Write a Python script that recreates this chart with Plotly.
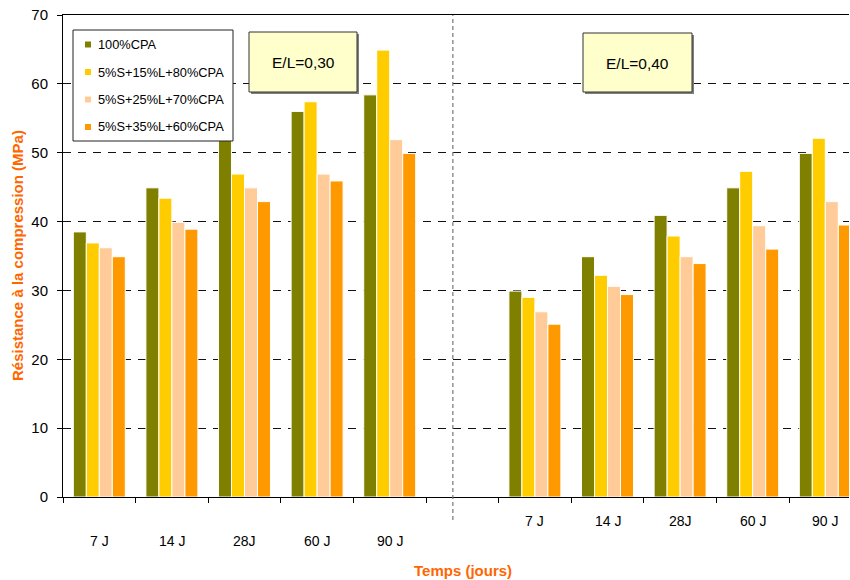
import plotly.graph_objects as go

# Compressive strength (MPa) by curing age, for two water/binder ratios
ages = ["7 J", "14 J", "28J", "60 J", "90 J"]
series_names = ["100%CPA", "5%S+15%L+80%CPA", "5%S+25%L+70%CPA", "5%S+35%L+60%CPA"]
colors = ["#808000", "#FFCC00", "#FFCC99", "#FF9900"]

el030_cpa100 = [38.5, 44.9, 53.0, 56.0, 58.4]
el030_s15l = [36.9, 43.4, 46.9, 57.4, 64.9]
el030_s25l = [36.2, 39.9, 44.9, 46.9, 51.9]
el030_s35l = [34.9, 38.9, 42.9, 45.9, 49.9]

el040_cpa100 = [29.9, 34.9, 40.9, 44.9, 49.9]
el040_s15l = [29.0, 32.2, 37.9, 47.3, 52.1]
el040_s25l = [26.9, 30.6, 34.9, 39.4, 42.9]
el040_s35l = [25.1, 29.4, 33.9, 36.0, 39.5]

ratio_labels = ["E/L=0,30", "E/L=0,40"]

left_pos = [0, 1, 2, 3, 4]
right_pos = [6, 7, 8, 9, 10]

# plot-area geometry in pixels (850x580 page)
L, R, T, B = 63, 849, 15, 497
W, H = R - L, B - T
cat_w = 72.6


def px(x):
    return (x - L) / W


def py(y):
    return (B - y) / H


series_030 = [el030_cpa100, el030_s15l, el030_s25l, el030_s35l]
series_040 = [el040_cpa100, el040_s15l, el040_s25l, el040_s35l]

fig = go.Figure()
for name, col, v1, v2 in zip(series_names, colors, series_030, series_040):
    fig.add_trace(go.Bar(
        x=left_pos + right_pos,
        y=v1 + v2,
        name=name,
        marker=dict(color=col, line=dict(color="white", width=1)),
        showlegend=False,
    ))

font_family = "Arial, Liberation Sans, sans-serif"
shapes = []
annotations = []


def label(x, y, text, size, xref="paper", xanchor="center", **kw):
    annotations.append(dict(x=x, y=y, xref=xref, yref="paper", text=text,
                            xanchor=xanchor, yanchor="middle", showarrow=False,
                            font=dict(size=size, color=kw.pop("color", "black")), **kw))


# separator between the two ratios
shapes.append(dict(type="line", xref="x", yref="paper", x0=4.87, x1=4.87,
                   y0=py(520), y1=1, line=dict(color="#777777", width=1.2, dash="4px,3px"),
                   layer="above"))

# category labels under each group (staggered heights)
for pos, lab in zip(left_pos, ages):
    label(pos, py(541), lab, 14, xref="x")
for pos, lab in zip(right_pos, ages):
    label(pos, py(521), lab, 14, xref="x")

# legend box
shapes.append(dict(type="rect", xref="paper", yref="paper",
                   x0=px(73), x1=px(233), y0=py(141), y1=py(30),
                   line=dict(color="#222222", width=1), fillcolor="white", layer="above"))
legend_rows = [44.5, 72, 99.5, 127]
for name, col, yy in zip(series_names, colors, legend_rows):
    shapes.append(dict(type="rect", xref="paper", yref="paper",
                       x0=px(85), x1=px(91), y0=py(yy + 3), y1=py(yy - 3),
                       line=dict(width=0), fillcolor=col, layer="above"))
    label(px(96), py(yy), name, 12.8, xanchor="left")

# ratio boxes
for lab, (x0, x1, y0, y1) in zip(ratio_labels, [(249, 357, 32, 92), (583, 692, 33, 92)]):
    shapes.append(dict(type="rect", xref="paper", yref="paper",
                       x0=px(x0 + 2), x1=px(x1 + 2), y0=py(y1 + 2), y1=py(y0 + 2),
                       line=dict(width=0), fillcolor="#7f7f7f", layer="above"))
    shapes.append(dict(type="rect", xref="paper", yref="paper",
                       x0=px(x0), x1=px(x1), y0=py(y1), y1=py(y0),
                       line=dict(color="#333333", width=1), fillcolor="#FFFFCC", layer="above"))
    label(px((x0 + x1) / 2), py((y0 + y1) / 2 + 1), lab, 15.5)

# axis titles
label(px(17), py(256), "<b>Résistance à la compression (MPa)</b>", 15,
      textangle=-90, color="#FF6600")
label(px(463), py(570), "<b>Temps (jours)</b>", 15, color="#FF6600")

tick_bounds = [i - 0.5 for i in range(12)]

fig.update_layout(
    width=850, height=580,
    margin=dict(l=L, r=850 - R, t=T, b=580 - B),
    paper_bgcolor="white", plot_bgcolor="white",
    barmode="group", bargap=0.284, bargroupgap=0,
    font=dict(family=font_family, color="black"),
    shapes=shapes, annotations=annotations,
    xaxis=dict(range=[-0.5, -0.5 + W / cat_w], tickvals=tick_bounds,
               ticktext=[""] * len(tick_bounds), ticks="outside", ticklen=5,
               tickcolor="black", showline=True, linecolor="black", linewidth=1,
               mirror=True, showgrid=False, zeroline=False, fixedrange=True),
    yaxis=dict(range=[0, 70], dtick=10, ticks="outside", ticklen=5, tickcolor="black",
               showline=True, linecolor="black", linewidth=1,
               showgrid=True, gridcolor="#111111", gridwidth=1, griddash="8px,7px",
               zeroline=False, tickfont=dict(size=15), ticklabelstandoff=6),
)

fig.write_html("out.html")
